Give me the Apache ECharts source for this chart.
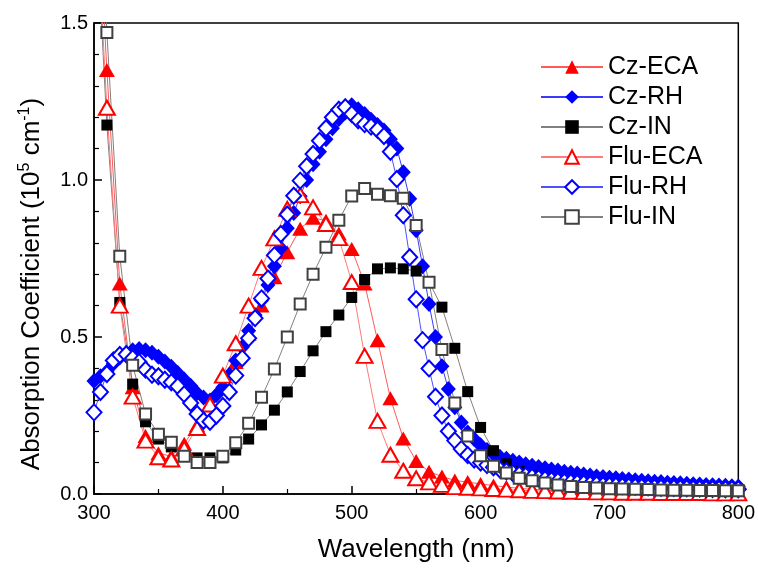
<!DOCTYPE html>
<html><head><meta charset="utf-8">
<script src="https://cdn.jsdelivr.net/npm/echarts@6/dist/echarts.min.js"></script>
<style>html,body{margin:0;padding:0;background:#fff}#c{width:758px;height:568px}</style>
</head><body><div id="c"></div><script>
// wavelengths (nm)
const wl10 = [300,310,320,330,340,350,360,370,380,390,400,410,420,430,440,450,460,470,480,490,500,510,520,530,540,550,560,570,580,590,600,610,620,630,640,650,660,670,680,690,700,710,720,730,740,750,760,770,780,790,800];
const wl5 = [300,305,310,315,320,325,330,335,340,345,350,355,360,365,370,375,380,385,390,395,400,405,410,415,420,425,430,435,440,445,450,455,460,465,470,475,480,485,490,495,500,505,510,515,520,525,530,535,540,545,550,555,560,565,570,575,580,585,590,595,600,605,610,615,620,625,630,635,640,645,650,655,660,665,670,675,680,685,690,695,700,705,710,715,720,725,730,735,740,745,750,755,760,765,770,775,780,785,790,795,800];

// absorption coefficient (10^5 cm^-1)
const czECA = [2.1,1.35,0.67,0.34,0.185,0.13,0.12,0.16,0.22,0.285,0.34,0.42,0.51,0.60,0.69,0.77,0.845,0.88,0.87,0.83,0.78,0.67,0.49,0.305,0.177,0.105,0.071,0.056,0.043,0.038,0.032,0.027,0.022,0.018,0.015,0.012,0.010,0.008,0.007,0.006,0.006,0.005,0.005,0.005,0.004,0.004,0.004,0.004,0.003,0.003,0.003];
const czRH = [0.36,0.375,0.39,0.415,0.435,0.448,0.458,0.462,0.458,0.45,0.437,0.422,0.405,0.385,0.365,0.345,0.322,0.307,0.298,0.315,0.34,0.38,0.425,0.467,0.52,0.57,0.616,0.666,0.725,0.783,0.846,0.895,0.948,1.0,1.05,1.09,1.13,1.165,1.194,1.215,1.238,1.225,1.21,1.192,1.175,1.158,1.13,1.10,1.025,0.94,0.84,0.725,0.605,0.50,0.407,0.334,0.276,0.228,0.196,0.175,0.155,0.14,0.127,0.119,0.112,0.106,0.10,0.095,0.09,0.086,0.082,0.078,0.075,0.071,0.068,0.065,0.062,0.059,0.056,0.054,0.052,0.050,0.048,0.046,0.044,0.042,0.041,0.039,0.038,0.036,0.035,0.034,0.033,0.031,0.030,0.029,0.028,0.027,0.026,0.025,0.024];
const czIN = [1.95,1.175,0.61,0.35,0.23,0.175,0.15,0.125,0.115,0.115,0.115,0.14,0.175,0.22,0.267,0.325,0.39,0.456,0.517,0.57,0.626,0.683,0.717,0.72,0.717,0.71,0.675,0.595,0.464,0.326,0.212,0.138,0.096,0.072,0.058,0.048,0.040,0.034,0.030,0.027,0.024,0.022,0.020,0.019,0.018,0.017,0.016,0.015,0.015,0.014,0.014];
const fluECA = [2.0,1.23,0.60,0.31,0.17,0.117,0.11,0.145,0.21,0.285,0.377,0.48,0.60,0.72,0.814,0.908,0.952,0.913,0.86,0.815,0.675,0.44,0.233,0.125,0.074,0.05,0.037,0.029,0.022,0.02,0.018,0.016,0.014,0.012,0.010,0.009,0.008,0.007,0.006,0.005,0.005,0.004,0.004,0.004,0.003,0.003,0.003,0.003,0.002,0.002,0.002];
const fluRH = [0.26,0.325,0.382,0.425,0.443,0.445,0.432,0.42,0.396,0.38,0.375,0.364,0.356,0.343,0.318,0.29,0.255,0.233,0.23,0.25,0.28,0.325,0.377,0.432,0.496,0.56,0.623,0.686,0.76,0.828,0.89,0.95,0.998,1.044,1.083,1.125,1.165,1.20,1.224,1.232,1.21,1.19,1.178,1.17,1.16,1.14,1.09,1.003,0.888,0.754,0.62,0.49,0.40,0.31,0.25,0.20,0.17,0.143,0.124,0.11,0.10,0.092,0.085,0.078,0.072,0.067,0.062,0.058,0.054,0.05,0.047,0.044,0.041,0.039,0.037,0.035,0.033,0.031,0.030,0.028,0.027,0.026,0.025,0.024,0.023,0.022,0.021,0.021,0.020,0.019,0.019,0.018,0.018,0.017,0.017,0.016,0.016,0.016,0.015,0.015,0.015];
const fluIN = [2.4,1.47,0.757,0.41,0.255,0.19,0.165,0.12,0.10,0.10,0.12,0.163,0.225,0.308,0.398,0.50,0.605,0.70,0.786,0.872,0.949,0.973,0.955,0.95,0.942,0.855,0.674,0.46,0.29,0.185,0.122,0.088,0.067,0.05,0.042,0.035,0.029,0.024,0.021,0.019,0.017,0.016,0.015,0.014,0.013,0.012,0.012,0.011,0.011,0.010,0.010];

const FONT = "'Liberation Sans', Arial, sans-serif";
function pairs(xs, ys) { return xs.map((x, i) => [x, ys[i]]); }
function mk(name, xs, ys, symbol, size, color, lineColor) {
  return {
    name: name, type: 'line', data: pairs(xs, ys), symbol: symbol, symbolSize: size,
    showSymbol: true, clip: true,
    itemStyle: { color: color, borderWidth: symbol.indexOf('empty') === 0 ? 1.4 : 0 },
    lineStyle: { color: lineColor, width: 1 },
    emphasis: { disabled: true }
  };
}

const chart = echarts.init(document.getElementById('c'), null, { renderer: 'canvas' });
chart.setOption({
  animation: false,
  backgroundColor: '#fff',
  grid: { left: 94, right: 19, top: 23, bottom: 73, show: true, borderColor: '#000', borderWidth: 1.5, backgroundColor: 'transparent' },
  legend: {
    orient: 'vertical', left: 535, top: 47, itemWidth: 62, itemHeight: 17, itemGap: 0,
    textStyle: { fontSize: 25, fontFamily: FONT, color: '#000', lineHeight: 30 },
    data: ['Cz-ECA', 'Cz-RH', 'Cz-IN', 'Flu-ECA', 'Flu-RH', 'Flu-IN']
  },
  graphic: [{
    type: 'text', x: 32, y: 284, rotation: Math.PI / 2, silent: true,
    style: {
      text: '{n|Absorption Coefficient (10}{s|5}{n| cm}{s|-1}{n|)}',
      align: 'center', verticalAlign: 'middle', fill: '#000',
      rich: {
        n: { fontSize: 26, fontFamily: FONT, fill: '#000', color: '#000', lineHeight: 30 },
        s: { fontSize: 16, fontFamily: FONT, fill: '#000', color: '#000', lineHeight: 15, verticalAlign: 'top' }
      }
    }
  }],
  xAxis: {
    type: 'value', min: 300, max: 800, interval: 100,
    name: 'Wavelength (nm)', nameLocation: 'middle', nameGap: 43,
    nameTextStyle: { fontSize: 26, fontFamily: FONT, color: '#000' },
    axisLine: { lineStyle: { color: '#000', width: 1.5 } },
    axisTick: { inside: true, length: 8, lineStyle: { color: '#000', width: 1.5 } },
    minorTick: { show: true, splitNumber: 2, length: 5, lineStyle: { color: '#000', width: 1.2 } },
    axisLabel: { fontSize: 20, fontFamily: FONT, color: '#000', margin: 9 },
    splitLine: { show: false }
  },
  yAxis: {
    type: 'value', min: 0, max: 1.5, interval: 0.5,
    axisLine: { lineStyle: { color: '#000', width: 1.5 } },
    axisTick: { inside: true, length: 8, lineStyle: { color: '#000', width: 1.5 } },
    minorTick: { show: true, splitNumber: 5, length: 5, lineStyle: { color: '#000', width: 1.2 } },
    axisLabel: { fontSize: 20, fontFamily: FONT, color: '#000', margin: 6, formatter: v => v.toFixed(1) },
    splitLine: { show: false }
  },
  series: [
    mk('Cz-ECA', wl10, czECA, 'triangle', [16, 14], '#ff0000', '#ff5a5a'),
    mk('Cz-RH', wl5, czRH, 'diamond', [15, 16], '#0000ff', '#3a3aff'),
    mk('Cz-IN', wl10, czIN, 'rect', [11, 11], '#000000', '#808080'),
    mk('Flu-ECA', wl10, fluECA, 'emptyTriangle', [16, 14], '#ff0000', '#ff7a7a'),
    mk('Flu-RH', wl5, fluRH, 'emptyDiamond', [15, 16], '#0000ff', '#5050ff'),
    mk('Flu-IN', wl10, fluIN, 'emptyRect', [11, 11], '#404040', '#808080')
  ]
});
</script></body></html>
